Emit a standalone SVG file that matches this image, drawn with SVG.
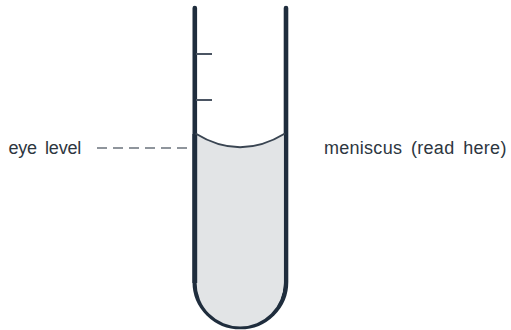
<svg xmlns="http://www.w3.org/2000/svg" width="511" height="330" viewBox="0 0 511 330">
<style>
.wall{fill:none;stroke:#1f2d3d;stroke-width:4.6;stroke-linecap:round}
.tick{fill:none;stroke:#4b5563;stroke-width:2}
.lbl{font-family:"Liberation Sans",Arial,sans-serif;font-size:18px;word-spacing:3.6px;fill:#2d3640}
</style>
<rect width="511" height="330" fill="#fff"/>
<g id="tube">
<path class="wall" d="M194.8 8V282A45.6 45 0 0 0 286 282V8"/>
</g>
<g id="liquid">
<path d="M196.6 134Q240 160 283.7 134V283A43.5 43.5 0 0 1 196.6 283Z" fill="#e2e4e6"/>
<path d="M194.8 134V283" fill="none" stroke="#1f2d3d" stroke-width="4.8"/>
<path d="M195.5 133.5Q240 161 285 133.5" fill="none" stroke="#3a4552" stroke-width="2"/>
</g>
<g id="ticks">
<path class="tick" d="M196 54H212M196 100H212"/>
</g>
<g id="connectors">
<path d="M97 148H190" fill="none" stroke="#8f959c" stroke-width="2" stroke-dasharray="10 6"/>
</g>
<g id="eye-level"><text class="lbl" x="8.5" y="154" letter-spacing="-0.25">eye level</text></g>
<g id="meniscus"><text class="lbl" x="324" y="154" letter-spacing="0.27">meniscus (read here)</text></g>
</svg>
